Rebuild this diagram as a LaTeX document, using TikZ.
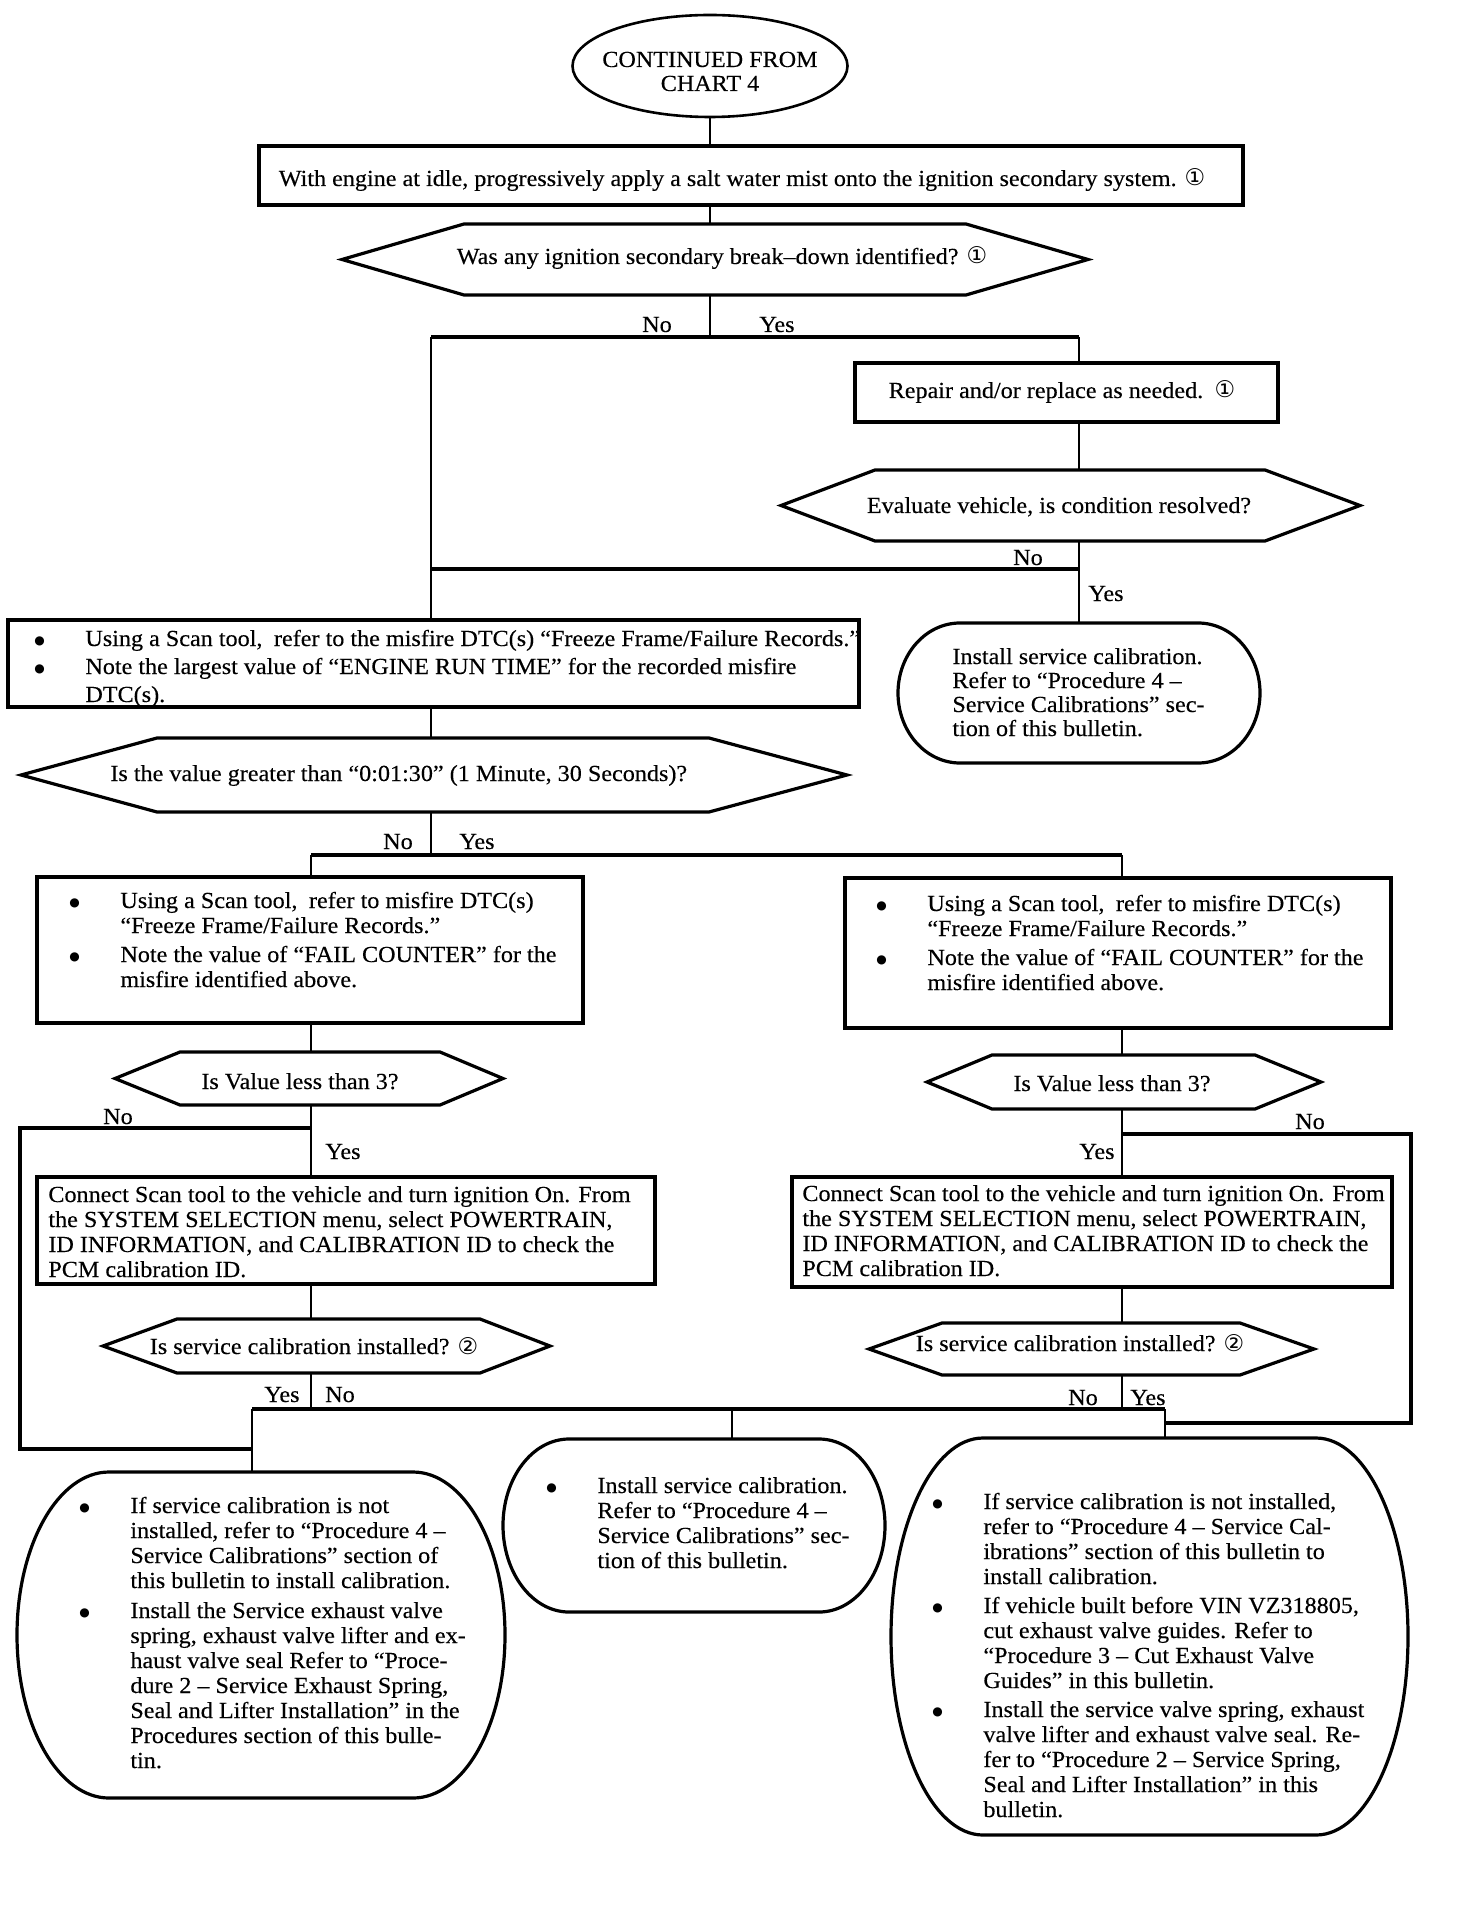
\documentclass[tikz,border=0pt]{standalone}
\usepackage{fontspec}
\setmainfont{Liberation Serif}[FakeStretch=1.05,FakeBold=0.3]
\newfontfamily\dvsans{DejaVu Sans}
\usetikzlibrary{shapes.geometric}

\newcommand\cnum[1]{{\dvsans\fontsize{11.5}{12}\selectfont #1}}
\newcommand\bitem[1]{\par\noindent\hangindent=23pt\hangafter=1\makebox[23pt][l]{\hspace*{-2.5pt}\raisebox{0.6pt}{\dvsans\fontsize{6}{6}\selectfont ●}}#1\par}
\newcommand\tblock[1]{\parbox[t]{560pt}{#1}}

\tikzset{
  boxn/.style={draw, line width=1.6pt, inner sep=0pt, outer sep=0pt},
  shp/.style={line width=1.6pt, line join=miter},
  frm/.style={inner sep=0pt, outer sep=0pt},
  conn/.style={line width=1.3pt},
  bus/.style={line width=1.8pt, line join=miter},
  ctxt/.style={anchor=base, inner sep=0pt, font=\fontsize{11.5}{12.5}\selectfont},
  ltxt/.style={anchor=base west, inner sep=0pt, font=\fontsize{11.5}{12.5}\selectfont},
  lbl/.style={anchor=base, inner sep=0pt, font=\fontsize{11.5}{12.5}\selectfont},
}

% rectangle: name, x1, y1, x2, y2 (pixels)
\newcommand\rbox[5]{\node[boxn, minimum width={(#4-#2)*0.5pt}, minimum height={(#5-#3)*0.5pt}] (#1) at ({(#2+#4)/2},{(#3+#5)/2}) {};}
% hexagon: name, xl, xil, xir, xr, yt, yb
\newcommand\hexn[7]{%
  \draw[shp] (#2,{(#6+#7)/2}) -- (#3,#6) -- (#4,#6) -- (#5,{(#6+#7)/2}) -- (#4,#7) -- (#3,#7) -- cycle;
  \node[frm, minimum width={(#5-#2)*0.5pt}, minimum height={(#7-#6)*0.5pt}] (#1) at ({(#2+#5)/2},{(#6+#7)/2}) {};}
% oval: name, x1, y1, x2, y2, rx
\newcommand\ovaln[6]{%
  \draw[shp] ({#2+#6},#3) -- ({#4-#6},#3)
    arc[start angle=90, end angle=-90, x radius={#6*0.5pt}, y radius={(#5-#3)*0.25pt}]
    -- ({#2+#6},#5)
    arc[start angle=270, end angle=90, x radius={#6*0.5pt}, y radius={(#5-#3)*0.25pt}] -- cycle;
  \node[frm, minimum width={(#4-#2)*0.5pt}, minimum height={(#5-#3)*0.5pt}] (#1) at ({(#2+#4)/2},{(#3+#5)/2}) {};}

\begin{document}
\begin{tikzpicture}[x=0.5pt,y=-0.5pt]
\useasboundingbox[fill=white] (0,0) rectangle (1456,1930);

% ---------- shapes ----------
\node[draw, ellipse, line width=1.3pt, frm, minimum width=137.5pt, minimum height=51pt] (ell) at (710,66) {};
\rbox{box1}{259}{146}{1243}{205}
\hexn{hex1}{342}{464}{966}{1088}{224}{295}
\rbox{rep}{855}{363}{1278}{422}
\hexn{hex2}{781}{875}{1265}{1360}{470}{541}
\ovaln{ov1}{898}{623}{1260}{763}{62}
\rbox{box2}{8}{620}{859}{707}
\hexn{hex3}{21}{157}{709}{847}{738}{812}
\rbox{box3l}{37}{877}{583}{1023}
\rbox{box3r}{845}{878}{1391}{1028}
\hexn{hex4l}{115}{180}{440}{503}{1052}{1105}
\hexn{hex4r}{927}{992}{1255}{1321}{1055}{1109}
\rbox{conl}{37}{1177}{655}{1284}
\rbox{conr}{792}{1177}{1392}{1287}
\hexn{hex5l}{103}{177}{480}{550}{1319}{1373}
\hexn{hex5r}{869}{942}{1240}{1314}{1323}{1375}
\ovaln{ovbl}{17}{1472}{505}{1798}{92}
\ovaln{ovbm}{503}{1439}{885}{1612}{66}
\ovaln{ovbr}{891}{1438}{1408}{1835}{92}

% ---------- junctions ----------
\coordinate (j1) at (710,337);
\coordinate (j1l) at (431,337);
\coordinate (j1r) at (1079,337);
\coordinate (j2) at (1079,569);
\coordinate (j2l) at (431,569);
\coordinate (j3) at (431,855);
\coordinate (j3l) at (311,855);
\coordinate (j3r) at (1122,855);
\coordinate (j4l) at (311,1128);
\coordinate (l4a) at (20,1128);
\coordinate (l4b) at (20,1449);
\coordinate (l4c) at (252,1449);
\coordinate (j4r) at (1122,1134);
\coordinate (r4a) at (1411,1134);
\coordinate (r4b) at (1411,1423);
\coordinate (r4c) at (1165,1423);
\coordinate (j5l) at (311,1409);
\coordinate (j5r) at (1122,1409);
\coordinate (b1) at (252,1409);
\coordinate (b2) at (732,1409);
\coordinate (b3) at (1165,1409);

% ---------- connectors ----------
\draw[conn] (ell.south) -- (ell.south |- box1.north);
\draw[conn] (box1.south -| ell.south) -- (hex1.north -| ell.south);
\draw[conn] (hex1.south -| j1) -- (j1);
\draw[bus] (j1l) -- (j1r);
\draw[conn] (j1l) -- (j1l |- box2.north);
\draw[conn] (j1r) -- (j1r |- rep.north);
\draw[conn] (rep.south -| j1r) -- (hex2.north -| j1r);
\draw[conn] (hex2.south -| j1r) -- (ov1.north -| j1r);
\draw[bus] (j2) -- (j2l);
\draw[conn] (box2.south -| j3) -- (hex3.north -| j3);
\draw[conn] (hex3.south -| j3) -- (j3);
\draw[bus] (j3l) -- (j3r);
\draw[conn] (j3l) -- (j3l |- box3l.north);
\draw[conn] (j3r) -- (j3r |- box3r.north);
\draw[conn] (box3l.south -| j3l) -- (hex4l.north -| j3l);
\draw[conn] (box3r.south -| j3r) -- (hex4r.north -| j3r);
\draw[conn] (hex4l.south -| j3l) -- (j3l |- conl.north);
\draw[bus] (j4l) -- (l4a) -- (l4b) -- (l4c);
\draw[conn] (hex4r.south -| j3r) -- (j3r |- conr.north);
\draw[bus] (j4r) -- (r4a) -- (r4b) -- (r4c);
\draw[conn] (conl.south -| j3l) -- (hex5l.north -| j3l);
\draw[conn] (conr.south -| j3r) -- (hex5r.north -| j3r);
\draw[conn] (hex5l.south -| j3l) -- (j5l);
\draw[conn] (hex5r.south -| j3r) -- (j5r);
\draw[bus] (b1) -- (b3);
\draw[conn] (b1) -- (b1 |- ovbl.north);
\draw[conn] (b2) -- (b2 |- ovbm.north);
\draw[conn] (b3) -- (b3 |- ovbr.north);

% ---------- texts ----------
\node[ctxt, font=\fontsize{11.5}{12}\selectfont] (t-ell) at (710,67) {\parbox[t]{200pt}{\centering CONTINUED FROM\\CHART 4}};
\node[ctxt] (t-box1) at (742,186) {With engine at idle, progressively apply a salt water mist onto the ignition secondary system. \cnum{①}};
\node[ctxt] (t-hex1) at (722,264) {Was any ignition secondary break–down identified? \cnum{①}};
\node[lbl] (l1n) at (657,332) {No};
\node[lbl] (l1y) at (777,332) {Yes};
\node[ctxt] (t-rep) at (1062,398) {Repair and/or replace as needed.\enspace\cnum{①}};
\node[ctxt] (t-hex2) at (1059,513) {Evaluate vehicle, is condition resolved?};
\node[lbl] (l2n) at (1028,565) {No};
\node[lbl] (l2y) at (1106,601) {Yes};
\node[ltxt, font=\fontsize{11.5}{12}\selectfont] (t-ov1) at (952,664) {\tblock{Install service calibration.\\Refer to “Procedure 4 –\\Service Calibrations” sec-\\tion of this bulletin.}};

\node[ltxt, font=\fontsize{11.5}{14}\selectfont] (t-box2) at (39,646) {\tblock{%
\bitem{Using a Scan tool,\enspace refer to the misfire DTC(s) “Freeze Frame/Failure Records.”}
\bitem{Note the largest value of “ENGINE RUN TIME” for the recorded misfire\\DTC(s).}}};
\node[ltxt] (t-hex3) at (110,781) {Is the value greater than “0:01:30” (1 Minute, 30 Seconds)?};
\node[lbl] (l3n) at (398,849) {No};
\node[lbl] (l3y) at (477,849) {Yes};

\node[ltxt] (t-box3l) at (74,908) {\tblock{%
\bitem{Using a Scan tool,\enspace refer to misfire DTC(s)\\“Freeze Frame/Failure Records.”}\vspace{2pt}
\bitem{Note the value of “FAIL COUNTER” for the\\misfire identified above.}}};
\node[ltxt] (t-box3r) at (881,911) {\tblock{%
\bitem{Using a Scan tool,\enspace refer to misfire DTC(s)\\“Freeze Frame/Failure Records.”}\vspace{2pt}
\bitem{Note the value of “FAIL COUNTER” for the\\misfire identified above.}}};

\node[ctxt] (t-hex4l) at (300,1089) {Is Value less than 3?};
\node[ctxt] (t-hex4r) at (1112,1091) {Is Value less than 3?};
\node[lbl] (l4ln) at (118,1124) {No};
\node[lbl] (l4ly) at (343,1159) {Yes};
\node[lbl] (l4rn) at (1310,1129) {No};
\node[lbl] (l4ry) at (1097,1159) {Yes};

\node[ltxt] (t-conl) at (48,1202) {\tblock{Connect Scan tool to the vehicle and turn ignition On. From\\the SYSTEM SELECTION menu, select POWERTRAIN,\\ID INFORMATION, and CALIBRATION ID to check the\\PCM calibration ID.}};
\node[ltxt] (t-conr) at (802,1201) {\tblock{Connect Scan tool to the vehicle and turn ignition On. From\\the SYSTEM SELECTION menu, select POWERTRAIN,\\ID INFORMATION, and CALIBRATION ID to check the\\PCM calibration ID.}};

\node[ctxt] (t-hex5l) at (314,1354) {Is service calibration installed? \cnum{②}};
\node[ctxt] (t-hex5r) at (1080,1351) {Is service calibration installed? \cnum{②}};
\node[lbl] (l5ly) at (282,1402) {Yes};
\node[lbl] (l5ln) at (340,1402) {No};
\node[lbl] (l5rn) at (1083,1405) {No};
\node[lbl] (l5ry) at (1148,1405) {Yes};

\node[ltxt] (t-ovbl) at (84,1513) {\tblock{%
\bitem{If service calibration is not\\installed, refer to “Procedure 4 –\\Service Calibrations” section of\\this bulletin to install calibration.}\vspace{2.5pt}
\bitem{Install the Service exhaust valve\\spring, exhaust valve lifter and ex-\\haust valve seal Refer to “Proce-\\dure 2 – Service Exhaust Spring,\\Seal and Lifter Installation” in the\\Procedures section of this bulle-\\tin.}}};
\node[ltxt] (t-ovbm) at (551,1493) {\tblock{%
\bitem{Install service calibration.\\Refer to “Procedure 4 –\\Service Calibrations” sec-\\tion of this bulletin.}}};
\node[ltxt] (t-ovbr) at (937,1509) {\tblock{%
\bitem{If service calibration is not installed,\\refer to “Procedure 4 – Service Cal-\\ibrations” section of this bulletin to\\install calibration.}\vspace{2pt}
\bitem{If vehicle built before VIN VZ318805,\\cut exhaust valve guides. Refer to\\“Procedure 3 – Cut Exhaust Valve\\Guides” in this bulletin.}\vspace{2pt}
\bitem{Install the service valve spring, exhaust\\valve lifter and exhaust valve seal. Re-\\fer to “Procedure 2 – Service Spring,\\Seal and Lifter Installation” in this\\bulletin.}}};
\end{tikzpicture}
\end{document}
